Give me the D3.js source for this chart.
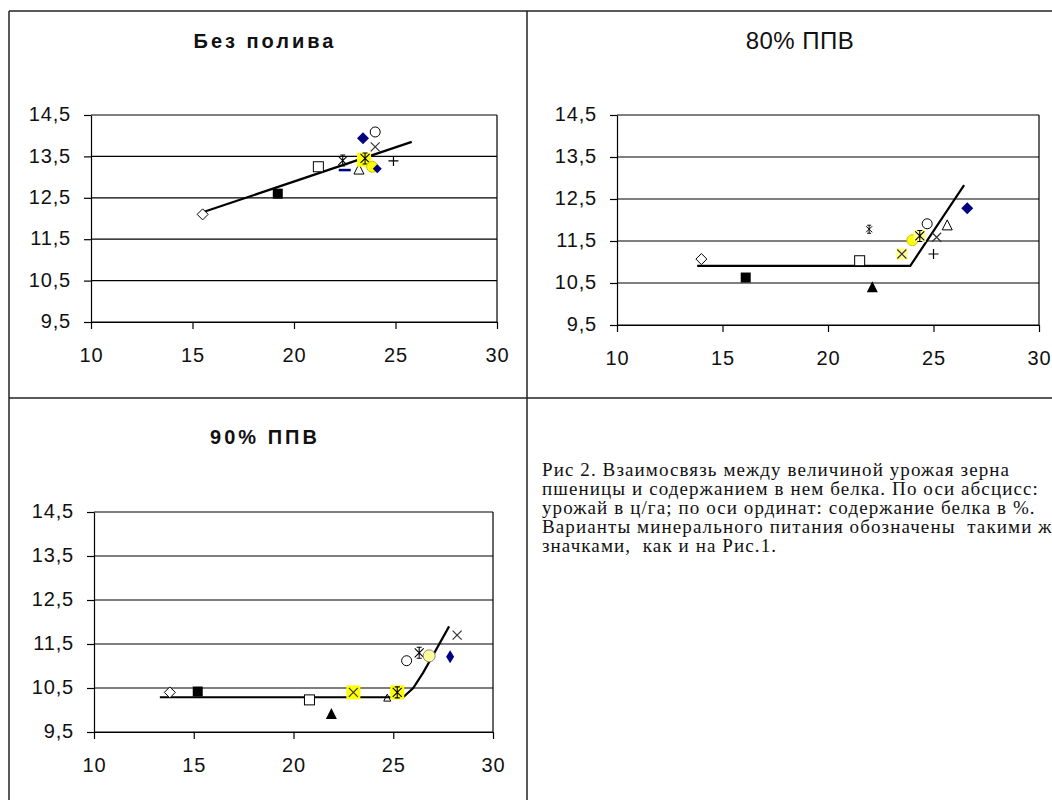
<!DOCTYPE html>
<html>
<head>
<meta charset="utf-8">
<script src="https://cdn.jsdelivr.net/npm/d3@7"></script>
<style>
  body { margin: 0; background: #fff; }
  svg text { font-family: "Liberation Sans", Arial, sans-serif; fill: #111; }
  .caption { font-family: "Liberation Serif", "Times New Roman", serif; }
</style>
</head>
<body>
<div id="chart"></div>
<script>
const X_TICKS = [10, 15, 20, 25, 30];
const Y_TICKS = [9.5, 10.5, 11.5, 12.5, 13.5, 14.5];

// Без полива
const noIrrX    = [15.5, 19.2, 21.2, 22.4, 22.5, 23.2, 23.45, 23.5, 23.85, 24.1, 23.4, 24.0, 24.0, 24.9];
const noIrrY    = [12.1, 12.6, 13.25, 13.4, 13.17, 13.17, 13.42, 13.45, 13.25, 13.2, 13.94, 14.09, 13.73, 13.39];
const noIrrMark = ['diamondOpen', 'squareFilled', 'squareOpen', 'star', 'dash', 'triangleOpen', 'hiYellow', 'star',
                   'circleYellow', 'diamondNavySmall', 'diamondNavy', 'circleOpen', 'cross', 'plus'];
const noIrrTrendX = [15.5, 25.8];
const noIrrTrendY = [12.15, 13.85];

// 80% ППВ
const ppv80X    = [14.0, 16.1, 21.5, 21.95, 22.1, 23.5, 23.5, 24.0, 24.35, 24.35, 24.7, 25.15, 25.0, 25.65, 26.6];
const ppv80Y    = [11.07, 10.63, 11.03, 11.78, 10.4, 11.19, 11.19, 11.52, 11.62, 11.62, 11.91, 11.59, 11.19, 11.86, 12.28];
const ppv80Mark = ['diamondOpen', 'squareFilled', 'squareOpen', 'starSmall', 'triangleFilled', 'hiLight', 'cross',
                   'circleYellow', 'hiLight', 'star', 'circleOpen', 'cross', 'plus', 'triangleOpen', 'diamondNavy'];
const ppv80TrendX = [13.8, 23.9, 26.45];
const ppv80TrendY = [10.91, 10.91, 12.83];

// 90% ППВ
const ppv90X    = [13.8, 15.2, 20.8, 21.9, 23.0, 23.0, 24.7, 25.2, 25.2, 25.2, 25.67, 26.3, 26.8, 27.85, 28.2];
const ppv90Y    = [10.4, 10.42, 10.23, 9.91, 10.4, 10.4, 10.27, 10.28, 10.4, 10.4, 11.12, 11.3, 11.23, 11.21, 11.7];
const ppv90Mark = ['diamondOpen', 'squareFilled', 'squareOpen', 'triangleFilled', 'hiYellow', 'cross', 'triangleOpenSmall',
                   'dash', 'hiYellow', 'star', 'circleOpen', 'star', 'circleLight', 'diamondNavyNarrow', 'cross'];
const ppv90TrendX = [13.3, 25.5, 26.0, 26.5, 27.0, 27.8];
const ppv90TrendY = [10.29, 10.29, 10.5, 10.85, 11.25, 11.9];

const CAPTION = [
  'Рис 2. Взаимосвязь между величиной урожая зерна',
  'пшеницы и содержанием в нем белка. По оси абсцисс:',
  'урожай в ц/га; по оси ординат: содержание белка в %.',
  'Варианты минерального питания обозначены  такими же',
  'значками,  как и на Рис.1.',
];

const W = 1052, H = 800;
const NAVY = '#000080';

const panels = [
  {title: 'Без полива', bold: true, tx: 265, ty: 43, box: {l: 91, r: 497, t: 115, b: 322},
   xs: noIrrX, ys: noIrrY, marks: noIrrMark, trendX: noIrrTrendX, trendY: noIrrTrendY},
  {title: '80% ППВ', bold: false, tx: 800, ty: 43, box: {l: 617, r: 1039, t: 115, b: 325},
   xs: ppv80X, ys: ppv80Y, marks: ppv80Mark, trendX: ppv80TrendX, trendY: ppv80TrendY},
  {title: '90% ППВ', bold: true, tx: 265, ty: 439, box: {l: 94, r: 493, t: 512, b: 732},
   xs: ppv90X, ys: ppv90Y, marks: ppv90Mark, trendX: ppv90TrendX, trendY: ppv90TrendY},
];

const svg = d3.select('#chart').append('svg')
  .attr('width', W)
  .attr('height', H);

// frame of the table
const frame = svg.append('g').attr('stroke', '#222').attr('stroke-width', 1.5);
frame.append('line').attr('x1', 9).attr('x2', W).attr('y1', 11).attr('y2', 11);
frame.append('line').attr('x1', 9).attr('x2', W).attr('y1', 398).attr('y2', 398);
frame.append('line').attr('x1', 9).attr('x2', 9).attr('y1', 11).attr('y2', H);
frame.append('line').attr('x1', 527).attr('x2', 527).attr('y1', 11).attr('y2', H);

const diamond = (w, h) => `M0,${-h}L${w},0L0,${h}L${-w},0Z`;

const drawMarker = (g, type) => {
  switch (type) {
    case 'diamondOpen':
      g.append('path').attr('d', diamond(5.5, 5.5)).attr('fill', '#fff').attr('stroke', '#000').attr('stroke-width', 1);
      break;
    case 'diamondNavy':
      g.append('path').attr('d', diamond(6, 6)).attr('fill', NAVY);
      break;
    case 'diamondNavySmall':
      g.append('path').attr('d', diamond(4.5, 4.5)).attr('fill', NAVY);
      break;
    case 'diamondNavyNarrow':
      g.append('path').attr('d', diamond(4, 6.5)).attr('fill', NAVY);
      break;
    case 'squareFilled':
      g.append('rect').attr('x', -5).attr('y', -5).attr('width', 10).attr('height', 10).attr('fill', '#000');
      break;
    case 'squareOpen':
      g.append('rect').attr('x', -5).attr('y', -5).attr('width', 10).attr('height', 10)
        .attr('fill', '#fff').attr('stroke', '#000').attr('stroke-width', 1);
      break;
    case 'hiYellow':
      g.append('rect').attr('x', -7).attr('y', -7).attr('width', 14).attr('height', 14).attr('fill', '#ffff00');
      break;
    case 'hiLight':
      g.append('rect').attr('x', -6).attr('y', -6).attr('width', 12).attr('height', 12).attr('fill', '#ffff99');
      break;
    case 'triangleFilled':
      g.append('path').attr('d', 'M0,-6L5.5,5L-5.5,5Z').attr('fill', '#000');
      break;
    case 'triangleOpen':
      g.append('path').attr('d', 'M0,-6L5,4L-5,4Z').attr('fill', '#fff').attr('stroke', '#000').attr('stroke-width', 1);
      break;
    case 'triangleOpenSmall':
      g.append('path').attr('d', 'M0,-4L3.5,3L-3.5,3Z').attr('fill', 'none').attr('stroke', '#000').attr('stroke-width', 1);
      break;
    case 'circleOpen':
      g.append('circle').attr('r', 5).attr('fill', '#fff').attr('stroke', '#000').attr('stroke-width', 1);
      break;
    case 'circleYellow':
      g.append('circle').attr('r', 5.5).attr('fill', '#ffff00').attr('stroke', '#c8c800').attr('stroke-width', 1);
      break;
    case 'circleLight':
      g.append('circle').attr('r', 6).attr('fill', '#ffff99').attr('stroke', '#888').attr('stroke-width', 1);
      break;
    case 'cross':
      g.append('path').attr('d', 'M-4.5,-4.5L4.5,4.5M-4.5,4.5L4.5,-4.5').attr('stroke', '#333').attr('stroke-width', 1.2);
      break;
    case 'plus':
      g.append('path').attr('d', 'M-5,0L5,0M0,-5L0,5').attr('stroke', '#000').attr('stroke-width', 1.2);
      break;
    case 'star':
      g.append('path').attr('d', 'M-4.5,-4.5L4.5,4.5M-4.5,4.5L4.5,-4.5M0,-5.5L0,5.5M-2.5,-5.5L2.5,-5.5M-2.5,5.5L2.5,5.5')
        .attr('stroke', '#000').attr('stroke-width', 1.1);
      break;
    case 'starSmall':
      g.append('path').attr('d', 'M-3,-3L3,3M-3,3L3,-3M0,-4L0,4M-2,-4L2,-4M-2,4L2,4')
        .attr('stroke', '#000').attr('stroke-width', 1);
      break;
    case 'dash':
      g.append('path').attr('d', 'M-6,0L6,0').attr('stroke', NAVY).attr('stroke-width', 2.5);
      break;
  }
};

panels.forEach(p => {
  const b = p.box;
  const x = d3.scaleLinear().domain([10, 30]).range([b.l, b.r]);
  const y = d3.scaleLinear().domain([9.5, 14.5]).range([b.b, b.t]);
  const g = svg.append('g');

  g.append('text')
    .attr('x', p.tx).attr('y', p.ty)
    .attr('text-anchor', 'middle')
    .attr('dominant-baseline', 'middle')
    .attr('font-size', p.bold ? 20 : 24)
    .attr('font-weight', p.bold ? 'bold' : 'normal')
    .attr('letter-spacing', p.bold ? 3 : 0.5)
    .text(p.title);

  // horizontal gridlines
  g.append('g').selectAll('line')
    .data(Y_TICKS)
    .join('line')
    .attr('x1', b.l).attr('x2', b.r)
    .attr('y1', d => y(d)).attr('y2', d => y(d))
    .attr('stroke', '#000').attr('stroke-width', 1.2);
  g.append('line')
    .attr('x1', b.r).attr('x2', b.r).attr('y1', b.t).attr('y2', b.b)
    .attr('stroke', '#000').attr('stroke-width', 1.2);

  const fmt = d => String(d).replace('.', ',');
  const xAxis = g.append('g')
    .attr('transform', `translate(0,${b.b})`)
    .call(d3.axisBottom(x).tickValues(X_TICKS).tickSize(7).tickSizeOuter(0).tickPadding(14).tickFormat(d3.format('d')));
  const yAxis = g.append('g')
    .attr('transform', `translate(${b.l},0)`)
    .call(d3.axisLeft(y).tickValues(Y_TICKS).tickSize(7).tickSizeOuter(0).tickPadding(13).tickFormat(fmt));
  [xAxis, yAxis].forEach(a => {
    a.select('.domain').attr('stroke', '#000').attr('stroke-width', 1.2);
    a.selectAll('.tick line').attr('stroke', '#000').attr('stroke-width', 1.2);
    a.selectAll('.tick text')
      .attr('font-family', '"Liberation Sans", Arial, sans-serif')
      .attr('font-size', 20)
      .attr('letter-spacing', 0.8)
      .attr('fill', '#222');
  });
  xAxis.selectAll('.tick text').attr('dy', '0.95em');
  yAxis.selectAll('.tick text').attr('dy', '0.28em');

  // trend line
  const line = d3.line().x(d => x(d[0])).y(d => y(d[1]));
  g.append('path')
    .attr('d', line(p.trendX.map((v, i) => [v, p.trendY[i]])))
    .attr('fill', 'none')
    .attr('stroke', '#000')
    .attr('stroke-width', 2.2);

  // points
  const pts = p.xs.map((v, i) => ({x: v, y: p.ys[i], mark: p.marks[i]}));
  g.append('g').selectAll('g.pt')
    .data(pts)
    .join('g')
    .classed('pt', true)
    .attr('transform', d => `translate(${x(d.x)},${y(d.y)})`)
    .each(function(d) { drawMarker(d3.select(this), d.mark); });
});

svg.append('g').selectAll('text')
  .data(CAPTION)
  .join('text')
  .classed('caption', true)
  .attr('x', 542)
  .attr('y', (d, i) => 476 + i * 19)
  .attr('font-size', 19)
  .attr('letter-spacing', 1.1)
  .attr('xml:space', 'preserve')
  .style('white-space', 'pre')
  .text(d => d);
</script>
</body>
</html>
